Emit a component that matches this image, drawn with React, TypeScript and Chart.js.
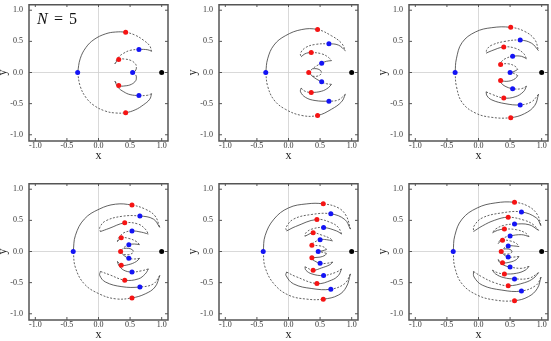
import React, { useEffect, useRef } from "react";
import { Chart, registerables } from "chart.js";
Chart.register(...registerables);

type Pt = [number, number];
type Arc = [Pt[], Pt[]];

const TICKS = [-1, -0.5, 0, 0.5, 1];
const AXIS_MIN = -1.1;
const AXIS_MAX = 1.1;
const FIXED_POINT: Pt[] = [[1, 0]];
const N_VALUES = ["5", "6", "7", "8", "9", "10"];
const X_TITLE = "x";
const Y_TITLE = "y";

// upper-half arcs: [part up to the marker, part from the marker]
const P1_ARCS: Arc[] = [
  [[[-0.33, 0], [-0.29, 0.22], [-0.2, 0.4], [-0.07, 0.53], [0.11, 0.62], [0.27, 0.65], [0.43, 0.645]], [[0.43, 0.645], [0.58, 0.6], [0.71, 0.52], [0.81, 0.43], [0.84, 0.34]]],
  [[[0.84, 0.34], [0.78, 0.365], [0.64, 0.37]], [[0.64, 0.37], [0.5, 0.355], [0.4, 0.31], [0.31, 0.24], [0.26, 0.14]]],
  [[[0.26, 0.14], [0.32, 0.21]], [[0.32, 0.21], [0.42, 0.215], [0.52, 0.19], [0.59, 0.13], [0.6, 0.07]]],
  [[[0.6, 0.07], [0.58, 0.02], [0.54, 0]], []],
];
const P1_RED: Pt[] = [[0.43, 0.645], [0.32, 0.21], [0.32, -0.21], [0.43, -0.645]];
const P1_BLUE: Pt[] = [[-0.33, 0], [0.64, 0.37], [0.54, 0], [0.64, -0.37]];

const P2_ARCS: Arc[] = [
  [[[-0.36, 0], [-0.33, 0.22], [-0.23, 0.44], [-0.05, 0.59], [0.21, 0.69], [0.46, 0.69]], [[0.46, 0.69], [0.68, 0.59], [0.84, 0.47], [0.9, 0.35]]],
  [[[0.9, 0.35], [0.79, 0.44], [0.64, 0.46]], [[0.64, 0.46], [0.42, 0.45], [0.27, 0.4], [0.19, 0.31], [0.2, 0.25]]],
  [[[0.2, 0.25], [0.26, 0.3], [0.36, 0.32]], [[0.36, 0.32], [0.525, 0.3], [0.63, 0.245], [0.68, 0.19]]],
  [[[0.68, 0.19], [0.6, 0.18], [0.525, 0.15]], [[0.525, 0.15], [0.45, 0.11], [0.38, 0.06], [0.32, 0]]],
  [[[0.38, 0.06], [0.45, 0.06], [0.51, 0.03], [0.52, 0]], []],
];
const P2_RED: Pt[] = [[0.46, 0.69], [0.36, 0.32], [0.32, 0], [0.36, -0.32], [0.46, -0.69]];
const P2_BLUE: Pt[] = [[-0.36, 0], [0.64, 0.46], [0.525, 0.15], [0.525, -0.15], [0.64, -0.46]];

const P3_ARCS: Arc[] = [
  [[[-0.37, 0], [-0.35, 0.22], [-0.26, 0.48], [-0.05, 0.65], [0.21, 0.72], [0.51, 0.725]], [[0.51, 0.725], [0.73, 0.66], [0.89, 0.53], [0.95, 0.35]]],
  [[[0.95, 0.35], [0.84, 0.47], [0.66, 0.52]], [[0.66, 0.52], [0.42, 0.5], [0.21, 0.44], [0.135, 0.375], [0.12, 0.31]]],
  [[[0.12, 0.31], [0.21, 0.35], [0.4, 0.41]], [[0.4, 0.41], [0.58, 0.39], [0.71, 0.31], [0.76, 0.22]]],
  [[[0.76, 0.22], [0.68, 0.26], [0.54, 0.26]], [[0.54, 0.26], [0.42, 0.22], [0.36, 0.17], [0.33, 0.11]]],
  [[[0.33, 0.11], [0.35, 0.13]], [[0.35, 0.13], [0.47, 0.14], [0.58, 0.1], [0.62, 0.05]]],
  [[[0.62, 0.05], [0.56, 0.015], [0.5, 0]], []],
];
const P3_RED: Pt[] = [[0.51, 0.725], [0.4, 0.41], [0.35, 0.13], [0.35, -0.13], [0.4, -0.41], [0.51, -0.725]];
const P3_BLUE: Pt[] = [[-0.37, 0], [0.66, 0.52], [0.54, 0.26], [0.5, 0], [0.54, -0.26], [0.66, -0.52]];

const P4_ARCS: Arc[] = [
  [[[-0.4, 0], [-0.365, 0.26], [-0.225, 0.52], [0.01, 0.68], [0.27, 0.76], [0.53, 0.745]], [[0.53, 0.745], [0.74, 0.68], [0.895, 0.57], [0.97, 0.385]]],
  [[[0.97, 0.385], [0.87, 0.52], [0.655, 0.57]], [[0.655, 0.57], [0.37, 0.565], [0.11, 0.49], [0.02, 0.385], [0.03, 0.32]]],
  [[[0.03, 0.32], [0.165, 0.37], [0.415, 0.46]], [[0.415, 0.46], [0.63, 0.44], [0.74, 0.36], [0.79, 0.28]]],
  [[[0.79, 0.28], [0.68, 0.31], [0.53, 0.33]], [[0.53, 0.33], [0.4, 0.3], [0.32, 0.22], [0.3, 0.16]]],
  [[[0.3, 0.16], [0.36, 0.22]], [[0.36, 0.22], [0.48, 0.21], [0.6, 0.16], [0.65, 0.11]]],
  [[[0.65, 0.11], [0.57, 0.12], [0.48, 0.11]], [[0.48, 0.11], [0.41, 0.07], [0.37, 0.03], [0.35, 0]]],
  [[[0.4, 0.05], [0.48, 0.05], [0.54, 0.025], [0.55, 0]], []],
];
const P4_RED: Pt[] = [[0.53, 0.745], [0.415, 0.46], [0.36, 0.22], [0.35, 0], [0.36, -0.22], [0.415, -0.46], [0.53, -0.745]];
const P4_BLUE: Pt[] = [[-0.4, 0], [0.655, 0.57], [0.53, 0.33], [0.48, 0.11], [0.48, -0.11], [0.53, -0.33], [0.655, -0.57]];

const P5_ARCS: Arc[] = [
  [[[-0.4, 0], [-0.37, 0.255], [-0.23, 0.52], [0.0, 0.7], [0.29, 0.765], [0.55, 0.765]], [[0.55, 0.765], [0.79, 0.7], [0.915, 0.57], [0.98, 0.36]]],
  [[[0.98, 0.36], [0.89, 0.515], [0.67, 0.605]], [[0.67, 0.605], [0.37, 0.595], [0.08, 0.52], [-0.04, 0.385], [-0.03, 0.33]]],
  [[[-0.03, 0.33], [0.11, 0.4], [0.45, 0.515]], [[0.45, 0.515], [0.68, 0.46], [0.79, 0.385], [0.84, 0.28]]],
  [[[0.84, 0.28], [0.76, 0.33], [0.555, 0.385]], [[0.555, 0.385], [0.37, 0.36], [0.275, 0.3], [0.26, 0.245]]],
  [[[0.26, 0.245], [0.39, 0.3]], [[0.39, 0.3], [0.52, 0.265], [0.66, 0.21], [0.7, 0.17]]],
  [[[0.7, 0.17], [0.6, 0.19], [0.5, 0.19]], [[0.5, 0.19], [0.41, 0.15], [0.35, 0.11]]],
  [[[0.35, 0.11], [0.37, 0.1]], [[0.37, 0.1], [0.5, 0.09], [0.58, 0.06], [0.6, 0.03]]],
  [[[0.6, 0.03], [0.53, 0.01], [0.47, 0]], []],
];
const P5_RED: Pt[] = [[0.55, 0.765], [0.45, 0.515], [0.39, 0.3], [0.37, 0.1], [0.37, -0.1], [0.39, -0.3], [0.45, -0.515], [0.55, -0.765]];
const P5_BLUE: Pt[] = [[-0.4, 0], [0.67, 0.605], [0.555, 0.385], [0.5, 0.19], [0.47, 0], [0.5, -0.19], [0.555, -0.385], [0.67, -0.605]];

const P6_ARCS: Arc[] = [
  [[[-0.4, 0], [-0.375, 0.255], [-0.26, 0.52], [-0.02, 0.7], [0.265, 0.78], [0.57, 0.79]], [[0.57, 0.79], [0.79, 0.725], [0.93, 0.595], [0.99, 0.41]]],
  [[[0.99, 0.41], [0.915, 0.54], [0.68, 0.635]], [[0.68, 0.635], [0.37, 0.62], [0.06, 0.54], [-0.07, 0.41], [-0.08, 0.32]]],
  [[[-0.08, 0.32], [0.06, 0.41], [0.25, 0.5], [0.47, 0.55]], [[0.47, 0.55], [0.73, 0.5], [0.87, 0.43], [0.95, 0.34]]],
  [[[0.95, 0.34], [0.8, 0.43], [0.57, 0.44]], [[0.57, 0.44], [0.4, 0.42], [0.27, 0.36], [0.22, 0.3]]],
  [[[0.22, 0.3], [0.3, 0.34], [0.41, 0.36]], [[0.41, 0.36], [0.6, 0.35], [0.74, 0.3], [0.8, 0.24]]],
  [[[0.8, 0.24], [0.68, 0.27], [0.5, 0.25]], [[0.5, 0.25], [0.4, 0.22], [0.33, 0.17], [0.31, 0.13]]],
  [[[0.31, 0.13], [0.38, 0.18]], [[0.38, 0.18], [0.5, 0.17], [0.6, 0.13], [0.64, 0.08]]],
  [[[0.64, 0.08], [0.55, 0.09], [0.47, 0.09]], [[0.47, 0.09], [0.4, 0.05], [0.36, 0]]],
  [[[0.4, 0.04], [0.47, 0.04], [0.52, 0.02], [0.53, 0]], []],
];
const P6_RED: Pt[] = [[0.57, 0.79], [0.47, 0.55], [0.41, 0.36], [0.38, 0.18], [0.36, 0], [0.38, -0.18], [0.41, -0.36], [0.47, -0.55], [0.57, -0.79]];
const P6_BLUE: Pt[] = [[-0.4, 0], [0.68, 0.635], [0.57, 0.44], [0.5, 0.25], [0.47, 0.09], [0.47, -0.09], [0.5, -0.25], [0.57, -0.44], [0.68, -0.635]];

const PANEL_DATA = [
  { arcs: P1_ARCS, red: P1_RED, blue: P1_BLUE },
  { arcs: P2_ARCS, red: P2_RED, blue: P2_BLUE },
  { arcs: P3_ARCS, red: P3_RED, blue: P3_BLUE },
  { arcs: P4_ARCS, red: P4_RED, blue: P4_BLUE },
  { arcs: P5_ARCS, red: P5_RED, blue: P5_BLUE },
  { arcs: P6_ARCS, red: P6_RED, blue: P6_BLUE },
];

// layout (canvas positions)
const LAYOUT = [
  { left: 0, top: 0 },
  { left: 190, top: 0 },
  { left: 380, top: 0 },
  { left: 0, top: 179 },
  { left: 190, top: 179 },
  { left: 380, top: 179 },
];
const CW = 172;
const CH = 162;
const PAD_L = 29;
const PAD_B = 21;
const FONT = "'Liberation Serif', 'DejaVu Serif', serif";
const TEXT_C = "#333";
const FRAME_C = "#555";
const GRID_C = "#cfcfcf";
const LINE_C = "#3a3a3a";
const RED_C = "rgb(245,20,20)";
const BLUE_C = "rgb(20,20,245)";

function arcDatasets(arcs: Arc[], lower: boolean) {
  return arcs.map(([pre, post]) => {
    const pts = pre.concat(post.slice(1)).map(([x, y]) => ({ x, y: lower ? -y : y }));
    const k = pre.length - 1;
    return {
      data: pts,
      showLine: true,
      pointRadius: 0,
      borderColor: LINE_C,
      borderWidth: 0.8,
      tension: 0.4,
      fill: false,
      segment: {
        borderDash: (ctx: any) => ((ctx.p0DataIndex < k) !== lower ? undefined : [2, 1.6]),
      },
    };
  });
}

function pointDataset(pts: Pt[], color: string) {
  return {
    data: pts.map(([x, y]) => ({ x, y })),
    showLine: false,
    pointRadius: 2.5,
    pointBackgroundColor: color,
    pointBorderWidth: 0,
    borderWidth: 0,
  };
}

function Panel({ idx }: { idx: number }) {
  const ref = useRef<HTMLCanvasElement | null>(null);
  useEffect(() => {
    const d = PANEL_DATA[idx];
    const plugin = {
      id: "frame" + idx,
      beforeDatasetsDraw(chart: any) {
        const { ctx, chartArea: a, scales } = chart;
        const x0 = scales.x.getPixelForValue(0);
        const y0 = scales.y.getPixelForValue(0);
        ctx.save();
        ctx.strokeStyle = GRID_C;
        ctx.lineWidth = 0.8;
        ctx.beginPath();
        ctx.moveTo(x0, a.top);
        ctx.lineTo(x0, a.bottom);
        ctx.moveTo(a.left, y0);
        ctx.lineTo(a.right, y0);
        ctx.stroke();
        ctx.restore();
      },
      afterDraw(chart: any) {
        const { ctx, chartArea: a, scales } = chart;
        ctx.save();
        ctx.strokeStyle = FRAME_C;
        ctx.lineWidth = 1;
        ctx.beginPath();
        for (const v of TICKS) {
          const px = scales.x.getPixelForValue(v);
          const py = scales.y.getPixelForValue(v);
          ctx.moveTo(px, a.bottom);
          ctx.lineTo(px, a.bottom - 3);
          ctx.moveTo(px, a.top);
          ctx.lineTo(px, a.top + 3);
          ctx.moveTo(a.left, py);
          ctx.lineTo(a.left + 3, py);
          ctx.moveTo(a.right, py);
          ctx.lineTo(a.right - 3, py);
        }
        ctx.stroke();
        ctx.lineWidth = 1.5;
        ctx.strokeRect(a.left, a.top + 0.75, a.right - a.left, a.bottom - a.top - 0.75);

        // tick labels
        ctx.fillStyle = TEXT_C;
        ctx.font = `8px ${FONT}`;
        ctx.textAlign = "center";
        ctx.textBaseline = "middle";
        for (const v of TICKS) {
          ctx.fillText(v.toFixed(1), scales.x.getPixelForValue(v), a.bottom + 5);
        }
        ctx.textAlign = "right";
        for (const v of TICKS) {
          ctx.fillText(v.toFixed(1), a.left - 6, scales.y.getPixelForValue(v));
        }
        // axis titles
        ctx.fillStyle = "#222";
        ctx.font = `12px ${FONT}`;
        ctx.textAlign = "center";
        ctx.fillText(X_TITLE, (a.left + a.right) / 2, a.bottom + 15);
        ctx.save();
        ctx.translate(a.left - 26, (a.top + a.bottom) / 2);
        ctx.rotate(-Math.PI / 2);
        ctx.fillText(Y_TITLE, 0, 0);
        ctx.restore();

        if (idx === 0) {
          ctx.fillStyle = "#111";
          ctx.textAlign = "left";
          ctx.textBaseline = "alphabetic";
          ctx.font = `italic 16px ${FONT}`;
          ctx.fillText("N", a.left + 8, a.top + 19.5);
          ctx.font = `16px ${FONT}`;
          ctx.fillText("=", a.left + 25, a.top + 19.5);
          ctx.fillText(N_VALUES[0], a.left + 40, a.top + 19.5);
        }
        ctx.restore();
      },
    };
    const datasets: any[] = [
      pointDataset(FIXED_POINT, "#000"),
      pointDataset(d.red, RED_C),
      pointDataset(d.blue, BLUE_C),
      ...arcDatasets(d.arcs, false),
      ...arcDatasets(d.arcs, true),
    ];
    const axis = () => ({
      type: "linear",
      display: false,
      min: AXIS_MIN,
      max: AXIS_MAX,
    });
    const chart = new Chart(ref.current as HTMLCanvasElement, {
      type: "scatter",
      data: { datasets },
      options: {
        animation: false,
        responsive: false,
        devicePixelRatio: 1,
        events: [],
        layout: { padding: { top: 0, right: CW - PAD_L - 141, bottom: PAD_B, left: PAD_L } },
        plugins: { legend: { display: false }, tooltip: { enabled: false } },
        scales: { x: axis(), y: axis() } as any,
      },
      plugins: [plugin],
    });
    return () => chart.destroy();
  }, [idx]);
  const pos = LAYOUT[idx];
  return (
    <canvas
      ref={ref}
      width={CW}
      height={CH}
      style={{ position: "absolute", left: pos.left, top: pos.top, width: CW, height: CH }}
    />
  );
}

export default function App() {
  return (
    <div
      style={{
        position: "fixed",
        left: 0,
        top: 0,
        width: 551,
        height: 341,
        overflow: "hidden",
        background: "#fff",
      }}
    >
      {PANEL_DATA.map((_, i) => (
        <Panel key={i} idx={i} />
      ))}
    </div>
  );
}
